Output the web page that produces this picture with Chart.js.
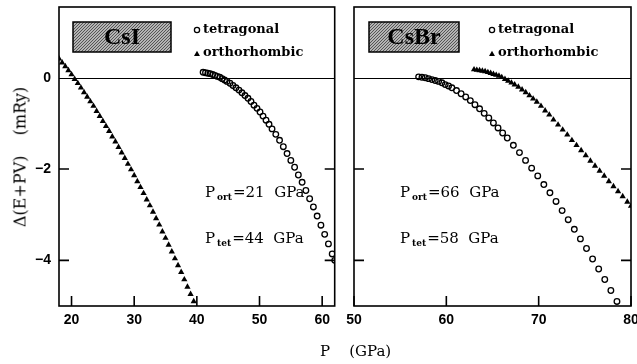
<!DOCTYPE html>
<html>
<head>
<meta charset="utf-8">
<script src="https://cdn.jsdelivr.net/npm/chart.js@4.4.0/dist/chart.umd.min.js"></script>
<style>
    html, body { margin: 0; padding: 0; background: #fff; }
    body { width: 637px; height: 364px; position: relative; overflow: hidden; }
    canvas { position: absolute; top: 0; }
    #csi-chart { left: 0; }
    #csbr-chart { left: 340px; }
    .y_title {
        position: absolute; left: 20px; top: 157px;
        transform: translate(-50%, -50%) rotate(-90deg);
        font: 16px "DejaVu Serif"; white-space: pre; color: #000;
    }
    .x_title {
        position: absolute; left: 320px; top: 342px;
        font: 15px "DejaVu Serif"; white-space: pre; color: #000;
    }
</style>
</head>
<body>
<canvas id="csi-chart" width="340" height="364"></canvas>
<canvas id="csbr-chart" width="297" height="364"></canvas>
<div class="y_title">Δ(E+PV)    (mRy)</div>
<div class="x_title">P    (GPa)</div>
<script>
"use strict";

// CsI panel
const csiOrtP = [18, 18.5, 19, 19.5, 20, 20.5, 21, 21.5, 22, 22.5, 23, 23.5, 24, 24.5, 25, 25.5, 26, 26.5, 27, 27.5,
    28, 28.5, 29, 29.5, 30, 30.5, 31, 31.5, 32, 32.5, 33, 33.5, 34, 34.5, 35, 35.5, 36, 36.5, 37, 37.5, 38, 38.5, 39, 39.5];
const csiOrtE = [0.42, 0.33, 0.25, 0.16, 0.07, -0.03, -0.12, -0.22, -0.32, -0.42, -0.52, -0.62, -0.73, -0.84, -0.95,
    -1.06, -1.17, -1.29, -1.40, -1.52, -1.64, -1.76, -1.89, -2.01, -2.14, -2.27, -2.40, -2.53, -2.67, -2.80, -2.94,
    -3.08, -3.22, -3.37, -3.51, -3.66, -3.81, -3.96, -4.11, -4.26, -4.42, -4.58, -4.74, -4.90];
const csiTetP = [41.0, 41.38, 41.76, 42.14, 42.52, 42.9, 43.28, 43.66, 44.04, 44.42, 44.8, 45.28, 45.76, 46.24, 46.72,
    47.2, 47.68, 48.16, 48.64, 49.12, 49.6, 50.08, 50.56, 51.04, 51.52, 52.0, 52.6, 53.2, 53.8, 54.4, 55.0, 55.6, 56.2,
    56.8, 57.4, 58.0, 58.6, 59.2, 59.8, 60.4, 61.0, 61.6, 62.0];
const csiTetE = [0.12, 0.11, 0.10, 0.09, 0.07, 0.05, 0.03, 0.01, -0.02, -0.05, -0.08, -0.12, -0.17, -0.22, -0.27,
    -0.33, -0.39, -0.45, -0.52, -0.60, -0.67, -0.75, -0.84, -0.93, -1.02, -1.12, -1.24, -1.37, -1.51, -1.66, -1.81,
    -1.96, -2.13, -2.29, -2.47, -2.65, -2.83, -3.03, -3.23, -3.43, -3.64, -3.86, -4.00];

// CsBr panel
const csbrTetP = [57.0, 57.36, 57.72, 58.08, 58.44, 58.8, 59.16, 59.52, 59.88, 60.24, 60.6, 61.1, 61.6, 62.1, 62.6,
    63.1, 63.6, 64.1, 64.6, 65.1, 65.6, 66.1, 66.6, 67.26, 67.92, 68.58, 69.24, 69.9, 70.56, 71.22, 71.88, 72.54,
    73.2, 73.86, 74.52, 75.18, 75.84, 76.5, 77.16, 77.82, 78.48];
const csbrTetE = [0.02, 0.01, 0.00, -0.02, -0.04, -0.06, -0.08, -0.11, -0.15, -0.18, -0.22, -0.28, -0.35, -0.42, -0.50,
    -0.59, -0.68, -0.78, -0.88, -0.99, -1.10, -1.21, -1.32, -1.48, -1.64, -1.81, -1.98, -2.15, -2.34, -2.52, -2.71,
    -2.91, -3.11, -3.32, -3.53, -3.74, -3.97, -4.19, -4.42, -4.66, -4.90];
const csbrOrtP = [63.0, 63.3, 63.6, 63.9, 64.2, 64.5, 64.8, 65.1, 65.4, 65.7, 66.0, 66.35, 66.7, 67.05, 67.4, 67.8,
    68.2, 68.6, 69.0, 69.4, 69.8, 70.25, 70.7, 71.15, 71.6, 72.1, 72.6, 73.1, 73.6, 74.1, 74.6, 75.1, 75.6, 76.1,
    76.6, 77.1, 77.6, 78.1, 78.6, 79.1, 79.6, 80.0];
const csbrOrtE = [0.18, 0.17, 0.16, 0.15, 0.14, 0.12, 0.10, 0.08, 0.06, 0.04, 0.01, -0.03, -0.07, -0.11, -0.15, -0.20,
    -0.26, -0.32, -0.39, -0.46, -0.53, -0.62, -0.72, -0.81, -0.92, -1.03, -1.14, -1.25, -1.37, -1.48, -1.59, -1.70,
    -1.82, -1.93, -2.04, -2.15, -2.27, -2.38, -2.49, -2.60, -2.72, -2.81];

// transition pressures written in the panels (GPa)
const csiPOrt = 21, csiPTet = 44;
const csbrPOrt = 66, csbrPTet = 58;

// ticks
const csiTicksX = [20, 30, 40, 50, 60];
const csbrTicksX = [50, 60, 70, 80];
const ticksY = [0, -2, -4];
const yMin = -5, yMax = 1.55;

const stipple = makeStipple();

// fine grey dot screen for the compound boxes
function makeStipple() {
    const c = document.createElement("canvas");
    c.width = 3;
    c.height = 3;
    const g = c.getContext("2d");
    g.fillStyle = "#b4b4b4";
    g.fillRect(0, 0, 3, 3);
    g.fillStyle = "#555";
    g.fillRect(0, 0, 1, 1);
    g.fillRect(1, 2, 1, 1);
    g.fillRect(2, 1, 1, 1);
    return c;
}

function toPoints(xs, ys) {
    return xs.map((x, i) => ({ x: x, y: ys[i] }));
}

function drawTriangle(ctx, cx, cy, r) {
    ctx.beginPath();
    ctx.moveTo(cx, cy - r);
    ctx.lineTo(cx + r * 0.9, cy + r * 0.6);
    ctx.lineTo(cx - r * 0.9, cy + r * 0.6);
    ctx.closePath();
    ctx.fill();
}

function drawNote(ctx, x, y, sub, rest) {
    ctx.textAlign = "left";
    ctx.textBaseline = "alphabetic";
    ctx.font = '15px "DejaVu Serif"';
    ctx.fillText("P", x, y);
    let cx = x + ctx.measureText("P").width + 2;
    ctx.font = 'bold 9px "DejaVu Serif"';
    ctx.fillText(sub, cx, y + 3);
    cx += ctx.measureText(sub).width + 1;
    ctx.font = '15px "DejaVu Serif"';
    ctx.fillText(rest, cx, y);
}

const panelDecor = {
    id: "panelDecor",
    beforeDatasetsDraw(chart) {
        const { ctx, chartArea: a, scales: { y } } = chart;
        const y0 = Math.round(y.getPixelForValue(0)) + 0.5;
        ctx.save();
        ctx.strokeStyle = "#000";
        ctx.lineWidth = 1;
        ctx.beginPath();
        ctx.moveTo(a.left, y0);
        ctx.lineTo(a.right, y0);
        ctx.stroke();
        ctx.restore();
    },
    afterDraw(chart, args, opts) {
        const { ctx, chartArea: a, scales: { x, y } } = chart;
        ctx.save();
        ctx.strokeStyle = "#000";
        ctx.fillStyle = "#000";

        // frame and inward ticks
        ctx.lineWidth = 1.6;
        ctx.strokeRect(a.left, a.top, a.right - a.left, a.bottom - a.top);
        ctx.beginPath();
        opts.ticksX.forEach(v => {
            const px = x.getPixelForValue(v);
            ctx.moveTo(px, a.bottom);
            ctx.lineTo(px, a.bottom - 10);
        });
        [-2, -4].forEach(v => {
            const py = y.getPixelForValue(v);
            ctx.moveTo(a.left, py);
            ctx.lineTo(a.left + 10, py);
            ctx.moveTo(a.right, py);
            ctx.lineTo(a.right - 10, py);
        });
        ctx.stroke();

        // compound label box
        const bx = a.left + opts.boxDx;
        const by = a.top + 15;
        ctx.fillStyle = ctx.createPattern(stipple, "repeat");
        ctx.fillRect(bx, by, opts.boxW, 30);
        ctx.lineWidth = 1.5;
        ctx.strokeRect(bx, by, opts.boxW, 30);
        ctx.fillStyle = "#000";
        ctx.font = 'bold 24px "Liberation Serif"';
        ctx.textAlign = "center";
        ctx.textBaseline = "middle";
        ctx.fillText(opts.boxText, bx + opts.boxW / 2, by + 16);

        // legend
        const lx = a.left + opts.legendDx;
        ctx.lineWidth = 1.3;
        ctx.beginPath();
        ctx.arc(lx, a.top + 23, 2.6, 0, Math.PI * 2);
        ctx.stroke();
        drawTriangle(ctx, lx, a.top + 47, 3.3);
        ctx.font = 'bold 13px "DejaVu Serif"';
        ctx.textAlign = "left";
        ctx.fillText("tetragonal", lx + 6, a.top + 23);
        ctx.fillText("orthorhombic", lx + 6, a.top + 46);

        // transition pressures
        const nx = a.left + opts.noteDx;
        drawNote(ctx, nx, a.top + 190, "ort", "=" + opts.pOrt + "  GPa");
        drawNote(ctx, nx, a.top + 236, "tet", "=" + opts.pTet + "  GPa");
        ctx.restore();
    }
};

function buildChart(canvasId, cfg) {
    const ctx = document.getElementById(canvasId).getContext("2d");
    return new Chart(ctx, {
        type: "scatter",
        data: {
            datasets: [
                {
                    label: "tetragonal",
                    data: cfg.tet,
                    pointStyle: "circle",
                    pointRadius: 2.8,
                    pointBorderWidth: 1.3,
                    pointBorderColor: "#000",
                    pointBackgroundColor: "rgba(0,0,0,0)",
                    clip: 0
                },
                {
                    label: "orthorhombic",
                    data: cfg.ort,
                    pointStyle: "triangle",
                    pointRadius: 3.6,
                    pointBorderWidth: 0,
                    pointBackgroundColor: "#000",
                    clip: 0
                }
            ]
        },
        options: {
            responsive: false,
            animation: false,
            devicePixelRatio: 1,
            layout: { padding: { top: 7, right: cfg.padRight, left: cfg.padLeft, bottom: 0 } },
            plugins: {
                legend: { display: false },
                tooltip: { enabled: false },
                panelDecor: cfg.decor
            },
            scales: {
                x: {
                    type: "linear",
                    min: cfg.xMin,
                    max: cfg.xMax,
                    grid: { display: false, drawTicks: false },
                    border: { display: false },
                    ticks: {
                        padding: 6,
                        color: "#000",
                        font: { family: "Liberation Sans", size: 14, weight: "bold" }
                    },
                    afterBuildTicks: (scale) => {
                        scale.ticks = cfg.ticksX.map(v => ({ value: v }));
                    },
                    afterFit: (scale) => {
                        scale.height = 58;
                        scale.paddingLeft = 0;
                        scale.paddingRight = 0;
                    }
                },
                y: {
                    type: "linear",
                    display: cfg.showY,
                    min: yMin,
                    max: yMax,
                    grid: { display: false, drawTicks: false },
                    border: { display: false },
                    ticks: {
                        padding: 8,
                        color: "#000",
                        font: { family: "Liberation Sans", size: 14, weight: "bold" },
                        callback: (v) => (v === 0 ? "0" : "\u2212" + Math.abs(v))
                    },
                    afterBuildTicks: (scale) => {
                        scale.ticks = ticksY.map(v => ({ value: v }));
                    },
                    afterFit: (scale) => {
                        scale.width = cfg.showY ? 59 : 0;
                        scale.paddingTop = 0;
                        scale.paddingBottom = 0;
                    }
                }
            }
        },
        plugins: [panelDecor]
    });
}

buildChart("csi-chart", {
    tet: toPoints(csiTetP, csiTetE),
    ort: toPoints(csiOrtP, csiOrtE),
    xMin: 18,
    xMax: 62,
    ticksX: csiTicksX,
    showY: true,
    padLeft: 0,
    padRight: 5,
    decor: { ticksX: csiTicksX, boxDx: 14, boxW: 98, boxText: "CsI", legendDx: 138, noteDx: 146, pOrt: csiPOrt, pTet: csiPTet }
});

buildChart("csbr-chart", {
    tet: toPoints(csbrTetP, csbrTetE),
    ort: toPoints(csbrOrtP, csbrOrtE),
    xMin: 50,
    xMax: 80,
    ticksX: csbrTicksX,
    showY: false,
    padLeft: 14,
    padRight: 6,
    decor: { ticksX: csbrTicksX, boxDx: 15, boxW: 90, boxText: "CsBr", legendDx: 138, noteDx: 46, pOrt: csbrPOrt, pTet: csbrPTet }
});
</script>
</body>
</html>
